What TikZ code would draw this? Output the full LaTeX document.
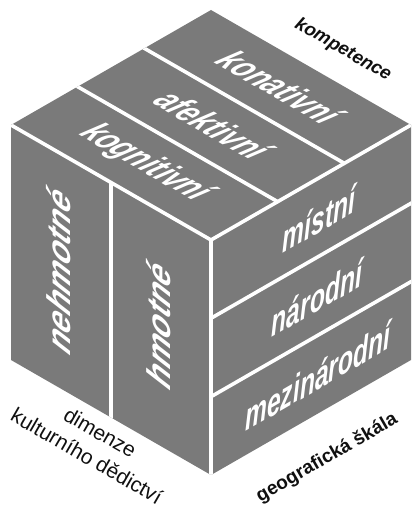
\documentclass[tikz,border=0pt]{standalone}
\usepackage{fontspec}
\setmainfont{Liberation Sans}
\usetikzlibrary{calc}
\definecolor{facegray}{RGB}{122,122,122}
\definecolor{labelink}{RGB}{16,16,16}
\begin{document}
\begin{tikzpicture}[x=1pt,y=1pt,
  divider/.style={white, line width=3.6pt, line join=miter},
  facelabel/.style={text=white, inner sep=0pt, transform shape,
    font=\fontsize{38}{40}\selectfont\bfseries\itshape},
  toplabel/.style={facelabel, cm={0.6495,-0.375,0.866,0.5,(0,0)}},
  rightlabel/.style={facelabel, cm={0.6495,0.375,0,1,(0,0)}},
  leftlabel/.style={facelabel, cm={0,0.88,-0.866,0.5,(0,0)}},
  axislabel/.style={text=labelink, inner sep=0pt, transform shape},
  complabel/.style={axislabel, font=\fontsize{18.5}{20}\selectfont\bfseries\itshape},
  dimlabel/.style={axislabel, font=\fontsize{21}{27}\selectfont},
  geolabel/.style={axislabel, font=\fontsize{19}{21}\selectfont\bfseries}
]
\useasboundingbox (0,0) rectangle (412,509);
% cube corners
\coordinate (L) at (11,384);
\coordinate (T) at (211,499);
\coordinate (R) at (411,384);
\coordinate (F) at (211,269);
\coordinate (RB) at (411,149);
\coordinate (FB) at (211,34);
\coordinate (LB) at (11,149);
% divider end points
\coordinate (ta1) at (77.7,422.3);  \coordinate (tb1) at (277.7,307.3);
\coordinate (ta2) at (144.3,460.7); \coordinate (tb2) at (344.3,345.7);
\coordinate (ra1) at (211,190.7);   \coordinate (rb1) at (411,305.7);
\coordinate (ra2) at (211,112.3);   \coordinate (rb2) at (411,227.3);
\coordinate (la) at (111,326.5);    \coordinate (lb) at (111,91.5);

\fill[facegray] (L)--(T)--(R)--(RB)--(FB)--(LB)--cycle;
\begin{scope}
  \clip (L)--(T)--(R)--(RB)--(FB)--(LB)--cycle;
  \draw[divider, shorten <=-6pt, shorten >=-6pt] (L)--(F)--(R);
  \draw[divider, shorten >=-6pt] (F)--(FB);
  \draw[divider, shorten <=-6pt, shorten >=-0.9pt] (ta1)--(tb1);
  \draw[divider, shorten <=-6pt, shorten >=-0.9pt] (ta2)--(tb2);
  \draw[divider, shorten <=-0.9pt, shorten >=-6pt] (ra1)--(rb1);
  \draw[divider, shorten <=-0.9pt, shorten >=-6pt] (ra2)--(rb2);
  \draw[divider, shorten <=-0.9pt, shorten >=-6pt] (la)--(lb);
\end{scope}

% top face
\node[toplabel] (konat) at (280,422) {konativní};
\node[toplabel] (afekt) at (213,384) {afektivní};
\node[toplabel] (kogn) at (145,346) {kognitivní};
% right face
\node[rightlabel] (mist) at (319,290) {místní};
\node[rightlabel] (narod) at (317,211) {národní};
\node[rightlabel] (mezin) at (318,133) {mezinárodní};
% left face
\node[leftlabel] (nehm) at (59,239) {nehmotné};
\node[leftlabel] (hmot) at (159,185) {hmotné};

% axis labels
\node[dimlabel] (dimen) at (92.5,63)
  {\rotatebox{-30}{\begin{tabular}{@{}c@{}}dimenze\\kulturního dědictví\end{tabular}}};
\node[complabel] (komp) at (343,459) {\rotatebox{-30}{kompetence}};
\node[geolabel] (geo) at (327,51) {\rotatebox{30}{geografická škála}};
\end{tikzpicture}
\end{document}
